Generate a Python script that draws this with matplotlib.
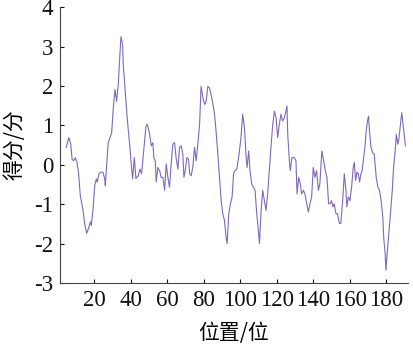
import matplotlib
matplotlib.use('Agg')
import matplotlib.pyplot as plt

# position along the sequence and the score
pos = [4.6, 6.0, 7.1, 7.8, 8.7, 9.6, 10.5, 11.4, 12.3, 13.8, 14.7, 15.8, 16.9, 17.8, 18.3,
       19.4, 20.2, 21.1, 21.6, 22.5, 23.5, 24.7, 25.7, 26.0, 27.6, 29.5, 30.4, 31.3, 32.2,
       33.1, 33.7, 34.6, 35.5, 35.8, 36.8, 38.0, 39.5, 40.4, 41.0, 41.9, 42.8, 44.1, 45.0,
       45.9, 47.2, 48.3, 49.0, 50.3, 51.2, 52.1, 52.6, 53.4, 53.9, 54.8, 55.8, 56.6, 57.6,
       58.5, 59.4, 60.3, 61.2, 62.1, 63.0, 64.0, 64.8, 65.8, 66.7, 67.6, 68.5, 69.1, 69.8,
       70.7, 71.6, 72.3, 73.1, 74.0, 74.9, 75.8, 76.7, 77.7, 78.5, 79.5, 80.4, 81.3, 82.2,
       83.1, 84.0, 84.9, 85.9, 86.7, 87.7, 88.6, 89.5, 90.4, 91.3, 92.2, 92.8, 93.7, 94.6,
       95.5, 96.3, 97.1, 98.1, 99.2, 100.4, 101.3, 102.3, 103.2, 103.7, 104.6, 105.3, 106.3,
       107.2, 108.1, 109.0, 109.9, 110.5, 111.4, 112.3, 113.2, 114.1, 115.0, 116.0, 116.8,
       117.8, 118.7, 119.6, 120.5, 121.4, 122.3, 123.2, 124.2, 125.0, 125.6, 126.0, 126.9,
       127.4, 128.3, 129.6, 130.5, 131.1, 132.0, 132.9, 133.6, 134.6, 135.4, 136.4, 137.3,
       138.2, 139.1, 140.0, 140.9, 141.8, 142.8, 143.6, 144.7, 145.7, 146.6, 147.5, 148.4,
       149.3, 150.0, 150.8, 151.5, 152.4, 153.3, 154.3, 155.1, 156.1, 157.0, 157.9, 158.4,
       159.2, 160.1, 161.0, 161.9, 162.5, 163.2, 163.9, 164.7, 165.4, 166.1, 166.8, 167.6,
       168.3, 169.0, 169.7, 170.3, 170.8, 171.6, 172.5, 173.4, 174.5, 175.4, 176.3, 177.2,
       178.1, 178.7, 179.4, 179.8, 180.5, 181.4, 182.3, 183.3, 184.0, 184.9, 185.5, 186.3,
       186.9, 187.8, 188.5, 189.1, 190.0, 190.5]
score = [0.44, 0.69, 0.52, 0.14, 0.10, 0.18, 0.06, -0.23, -0.78, -1.16, -1.49, -1.74, -1.61, -1.45, -1.54,
         -1.07, -0.53, -0.36, -0.44, -0.23, -0.19, -0.19, -0.36, -0.53, 0.56, 0.81, 1.44, 1.91, 1.61,
         2.03, 2.54, 3.25, 3.05, 2.58, 1.95, 1.19, 0.44, -0.07, -0.36, 0.18, -0.35, -0.28, -0.11,
         -0.23, 0.44, 0.98, 1.03, 0.78, 0.48, 0.56, 0.18, 0.10, -0.44, -0.07, -0.15, -0.32, -0.32,
         -0.65, 0.02, -0.32, -0.57, 0.02, 0.52, 0.56, 0.18, -0.11, 0.44, 0.48, 0.27, -0.32, -0.15,
         0.18, 0.14, -0.23, -0.28, -0.05, 0.44, 0.10, 0.52, 1.03, 1.99, 1.70, 1.53, 1.61, 1.99,
         1.95, 1.78, 1.57, 1.28, 0.86, 0.27, -0.32, -0.91, -1.24, -1.41, -1.83, -2.00, -1.24, -0.99,
         -0.82, -0.23, -0.15, -0.11, 0.23, 0.69, 1.28, 0.94, 0.18, -0.07, 0.35, -0.15, -0.49,
         -0.57, -0.65, -1.24, -1.66, -2.00, -1.16, -0.65, -0.91, -1.16, -0.74, -0.07, 0.44,
         1.03, 1.36, 1.19, 0.69, 1.03, 1.28, 1.11, 1.19, 1.36, 1.49, 0.77, 0.10,
         -0.15, 0.18, 0.18, 0.10, -0.74, -0.32, -0.49, -0.74, -0.65, -0.74, -0.99, -1.20,
         -0.99, -0.82, -0.07, -0.32, -0.15, -0.65, -0.49, 0.35, 0.10, -0.15, -0.32, -0.99,
         -0.99, -0.91, -1.07, -0.99, -1.24, -1.24, -1.49, -1.49, -0.91, -0.23, -0.65, -1.07,
         -0.82, -0.91, -0.57, -0.07, 0.06, -0.40, -0.19, -0.23, -0.44, -0.23, -0.15, 0.18,
         0.44, 0.86, 1.11, 1.23, 0.86, 0.44, 0.31, 0.27, -0.32, -0.57, -0.65, -0.91,
         -1.33, -1.91, -2.25, -2.68, -2.25, -1.75, -1.24, -0.65, -0.07, 0.35, 0.77, 0.52,
         0.65, 1.03, 1.32, 1.07, 0.69, 0.48]

xticks = [20, 40, 60, 80, 100, 120, 140, 160, 180]
yticks = [-3, -2, -1, 0, 1, 2, 3, 4]

plt.rcParams['axes.unicode_minus'] = False
cjk = ['Noto Sans CJK SC', 'DejaVu Sans']

fig = plt.figure(figsize=(4.14, 3.55), dpi=100)
ax = fig.add_axes([0.145, 0.203, 0.84, 0.777])
ax.plot(pos, score, color='#8068b8', linewidth=0.8)

ax.set_xlim(1.2, 191.8)
ax.set_ylim(-3, 4)
ax.set_xticks(xticks)
ax.set_yticks(yticks)
ax.tick_params(direction='in', length=3, width=0.8, labelsize=16.5, colors='#111111', pad=5)
for lab in ax.get_xticklabels() + ax.get_yticklabels():
    lab.set_fontfamily('Liberation Serif')
ax.spines['top'].set_visible(False)
ax.spines['right'].set_visible(False)
ax.spines['left'].set_color('#444444')
ax.spines['bottom'].set_color('#444444')

ax.set_xlabel('位置/位', family=cjk, fontsize=15, labelpad=8)
ax.set_ylabel('得分/分', family=cjk, fontsize=15, labelpad=6)

fig.savefig('out.png', dpi=100)
